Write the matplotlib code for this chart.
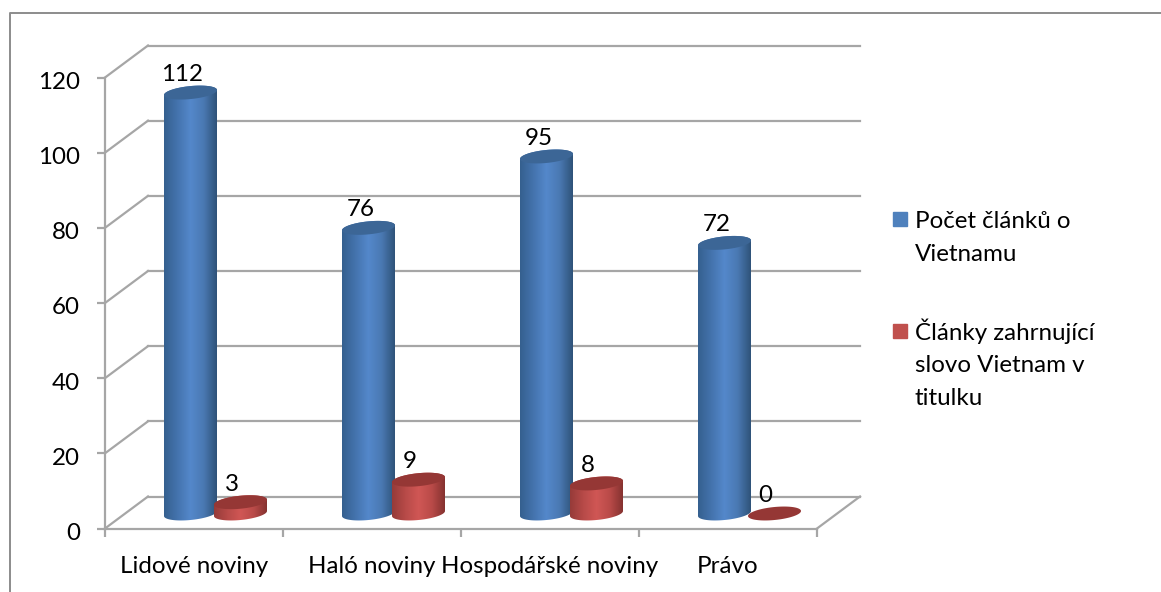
import matplotlib
matplotlib.use("Agg")
import matplotlib.pyplot as plt
import numpy as np
from matplotlib.colors import LinearSegmentedColormap
from matplotlib.legend_handler import HandlerPatch
from matplotlib.lines import Line2D
from matplotlib.patches import Patch, Polygon, Rectangle
from matplotlib.transforms import ScaledTranslation

plt.rcParams["font.family"] = "Lato"

categories = ["Lidové noviny", "Haló noviny", "Hospodářské noviny", "Právo"]
clanky = [112, 76, 95, 72]
v_titulku = [3, 9, 8, 0]
series_names = ["Počet článků o\nVietnamu", "Články zahrnující\nslovo Vietnam v\ntitulku"]
yticks = [0, 20, 40, 60, 80, 100, 120]

W, H = 1161, 592
GRID = "#a6a6a6"
FS = 17.4

fig = plt.figure(figsize=(W / 100, H / 100), dpi=100)
ax = fig.add_axes([105 / W, 1 - 528.5 / H, 712 / W, 451 / H])

# pixel -> data sizes for the fake 3d
px_x = 4 / 712
px_y = 120 / 451
DX = 43 * px_x
DY = 32 * px_y
BASE = DY / 2 - px_y

blue_map = LinearSegmentedColormap.from_list("b", ["#35608f", "#4473ad", "#5488cb", "#4a79b3", "#2f5379"])
red_map = LinearSegmentedColormap.from_list("r", ["#963b39", "#b74a48", "#d05755", "#ba4b49", "#853230"])
grad = np.linspace(0, 1, 128).reshape(1, -1)


def ellipse_xy(cx, cy, t):
    x = cx + 26.5 * px_x * np.cos(t)
    y = cy + (6.5 * np.sin(t) + 2.5 * np.cos(t)) * px_y
    return np.column_stack([x, y])


def cylinder(cx, value, cmap, top_color, z):
    top = BASE + value
    if value > 0:
        lower = ellipse_xy(cx, BASE, np.linspace(np.pi, 2 * np.pi, 60))
        upper = ellipse_xy(cx, top, np.linspace(0, np.pi, 60))
        side = Polygon(np.vstack([lower, upper]), closed=True, fc="none", ec="none", zorder=z)
        ax.add_patch(side)
        im = ax.imshow(grad, cmap=cmap, aspect="auto", zorder=z, interpolation="bilinear",
                       extent=[cx - 26.5 * px_x, cx + 26.5 * px_x, BASE - 10 * px_y, top + 10 * px_y])
        im.set_clip_path(side)
    ring = ellipse_xy(cx, top, np.linspace(0, 2 * np.pi, 120))
    ax.add_patch(Polygon(ring, closed=True, fc=top_color, ec="none", zorder=z + 0.1))


# back wall and floor
for v in yticks:
    ax.plot([DX, 4 + DX], [v + DY, v + DY], color=GRID, lw=1.6, clip_on=False, zorder=1)
    ax.plot([0, DX], [v, v + DY], color=GRID, lw=1.6, clip_on=False, zorder=1)
ax.plot([4, 4 + DX], [0, DY], color=GRID, lw=1.6, clip_on=False, zorder=1)

z = 3
for i in range(len(categories)):
    mid = i + 0.5 + DX / 2
    blue_x = mid - 25 * px_x
    red_x = mid + 25 * px_x
    cylinder(blue_x, clanky[i], blue_map, "#3c6696", z)
    cylinder(red_x, v_titulku[i], red_map, "#953735", z + 1)
    ax.text(blue_x - 8 * px_x, clanky[i] + BASE + 18 * px_y, str(clanky[i]), ha="center", va="center",
            fontsize=FS, color="black", zorder=20)
    ax.text(red_x - 9 * px_x, v_titulku[i] + BASE + 18 * px_y, str(v_titulku[i]), ha="center", va="center",
            fontsize=FS, color="black", zorder=20)
    z += 2

ax.set_xlim(0, 4)
ax.set_ylim(0, 120)
ax.patch.set_visible(False)
for s in ["top", "right"]:
    ax.spines[s].set_visible(False)
for s in ["left", "bottom"]:
    ax.spines[s].set_color(GRID)
    ax.spines[s].set_linewidth(1.6)

ax.set_yticks(yticks)
ax.set_xticks(range(5))
ax.set_xticklabels([])
ax.set_xticks(np.arange(4) + 0.5, categories, minor=True)
ax.tick_params(axis="y", color=GRID, width=1.6, length=6, labelsize=FS, pad=12)
ax.tick_params(axis="x", which="major", color=GRID, width=1.6, length=6)
ax.tick_params(axis="x", which="minor", length=0, labelsize=FS, pad=20)

# y labels sit a bit below their ticks
down = ScaledTranslation(0, -3 / 100, fig.dpi_scale_trans)
for lbl in ax.get_yticklabels():
    lbl.set_transform(lbl.get_transform() + down)

# outer frame, only left and top are in the picture
fig.add_artist(Line2D([9.5 / W, 9.5 / W, 1], [0, 1 - 12.5 / H, 1 - 12.5 / H], color="#8c8c8c", lw=1.4))


def first_line_square(legend, orig_handle, xdescent, ydescent, width, height, fontsize):
    # handle sits next to first line of the label
    n = orig_handle.get_label().count("\n")
    return Rectangle((0, (6 + 14 * n) * 0.72), width, width)


handles = [Patch(color="#4f81bd", label=series_names[0]), Patch(color="#c0504d", label=series_names[1])]
leg = fig.legend(handles=handles, loc="upper left", bbox_to_anchor=(893 / W, 1 - 211 / H), frameon=False,
                 fontsize=FS, borderpad=0, borderaxespad=0, handlelength=0.58, handletextpad=0.33,
                 labelspacing=2.2, handler_map={Patch: HandlerPatch(patch_func=first_line_square)})
for t in leg.get_texts():
    t.set_linespacing(1.7)
    t.set_color("black")

fig.savefig("out.png", dpi=100)
